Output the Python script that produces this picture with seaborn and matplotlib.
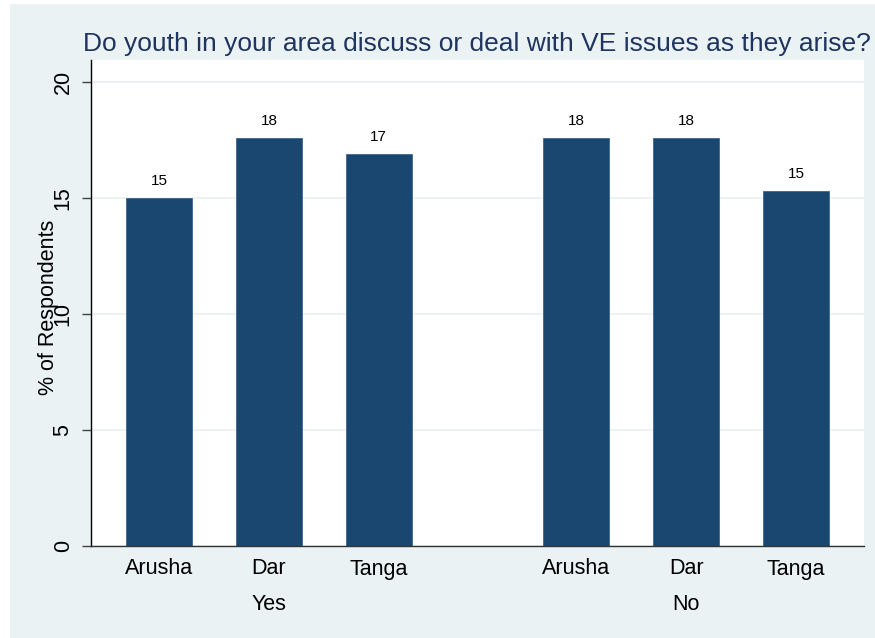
import pandas as pd
import seaborn as sns
import matplotlib.pyplot as plt
from matplotlib.patches import Rectangle

regions = ["Arusha", "Dar", "Tanga"]
groups = ["Yes", "No"]
yes_pct = [15.0, 17.6, 16.9]
no_pct = [17.6, 17.6, 15.3]

bg = '#EAF2F3'
bar_color = '#1A476F'
title_color = '#1F3560'

rows = []
for g, vals in enumerate([yes_pct, no_pct]):
    for i, v in enumerate(vals):
        rows.append({'group': groups[g], 'region': regions[i], 'pct': v, 'pos': i + g * 3.8})
df = pd.DataFrame(rows)

sns.set_style('white')
plt.rcParams['font.family'] = ['Liberation Sans', 'DejaVu Sans']
plt.rcParams['text.color'] = 'black'
plt.rcParams['axes.labelcolor'] = 'black'
plt.rcParams['xtick.color'] = 'black'
plt.rcParams['ytick.color'] = 'black'

fig = plt.figure(figsize=(8.75, 6.38), dpi=100, facecolor='white')
fig.patches.append(Rectangle((10 / 875, 0), 1, 1 - 4 / 638, transform=fig.transFigure,
                             facecolor=bg, edgecolor='none', zorder=-10))
ax = fig.add_axes([91 / 875, 92 / 638, 773 / 875, 486 / 638])

sns.barplot(data=df, x='pos', y='pct', native_scale=True, width=0.6,
            color=bar_color, saturation=1, edgecolor='#3E6690', linewidth=0.6, ax=ax)
ax.bar_label(ax.containers[0], labels=[f"{v:.0f}" for v in df['pct']],
             padding=7, fontsize=11, color='black')

ax.set_xlim(-0.62, 6.42)
ax.set_ylim(0, 20.95)
ax.set_xticks(df['pos'])
ax.set_xticklabels(df['region'], fontsize=15.5)
ax.set_yticks([0, 5, 10, 15, 20])
ax.set_yticklabels(['0', '5', '10', '15', '20'], fontsize=15.5, rotation=90, va='center')
ax.tick_params(axis='x', length=0, pad=9, labelcolor='black')
ax.tick_params(axis='y', length=6.5, width=1, color='#444444', pad=6, left=True, labelcolor='black')
ax.yaxis.grid(True, color=bg, linewidth=1.3)
ax.set_axisbelow(True)

for side in ['top', 'right']:
    ax.spines[side].set_visible(False)
ax.spines['left'].set_color('black')
ax.spines['bottom'].set_color('#333333')
ax.spines['left'].set_linewidth(1)
ax.spines['bottom'].set_linewidth(1)

for g, name in enumerate(groups):
    center = df.loc[df['group'] == name, 'pos'].mean()
    ax.text(center, -0.1317, name, transform=ax.get_xaxis_transform(),
            ha='center', va='baseline', fontsize=15.5, color='black')

ax.set_xlabel('')
ax.set_ylabel('% of Respondents', fontsize=15.5, color='black')
ax.yaxis.label.set_va('center')
ax.yaxis.set_label_coords(-0.0545, 0.49)

fig.text(83 / 875, 1 - 51 / 638, 'Do youth in your area discuss or deal with VE issues as they arise?',
         fontsize=19, color=title_color, ha='left', va='baseline')

fig.savefig('out.png', dpi=100, facecolor='white')
